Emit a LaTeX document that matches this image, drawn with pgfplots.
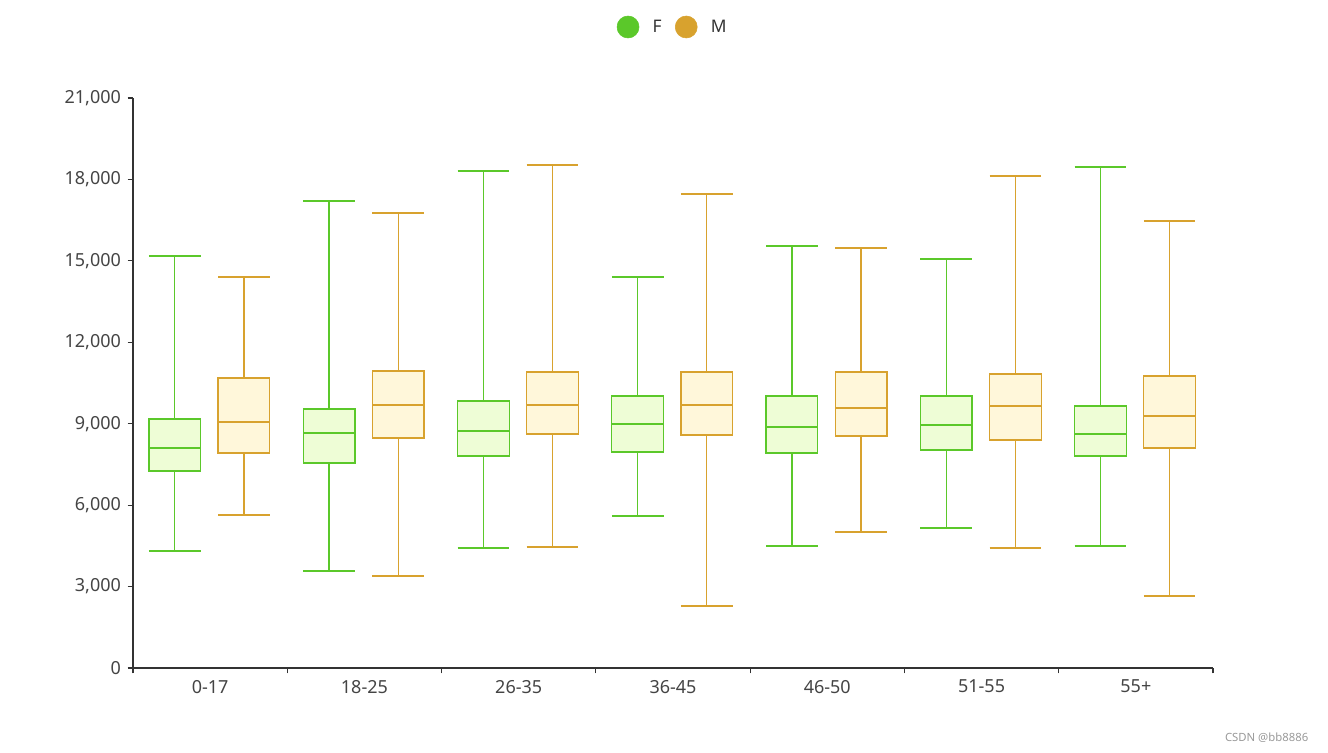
\documentclass[border=0pt]{standalone}
\usepackage{fontspec}
\setmainfont{Noto Sans}
\usepackage{pgfplots}
\pgfplotsset{compat=1.18}
\usepgfplotslibrary{statistics}
\definecolor{colF}{HTML}{5BC82A}
\definecolor{colM}{HTML}{D8A22E}
\definecolor{fillF}{HTML}{EEFDD6}
\definecolor{fillM}{HTML}{FFF7DA}
\definecolor{axc}{HTML}{333333}
\definecolor{lab}{HTML}{444444}
\newcommand{\bx}[7]{\addplot[#7, boxplot prepared={draw position=#1, lower whisker=#2, lower quartile=#3, median=#4, upper quartile=#5, upper whisker=#6, box extend=0.335, whisker extend=0.335}] coordinates {};}
\begin{document}
\begin{tikzpicture}
\useasboundingbox (-99.75pt,-63.75pt) rectangle (896.25pt,501pt);
\begin{axis}[at={(0pt,0pt)}, anchor=south west, scale only axis,
  width=810pt, height=427.5pt,
  xmin=-0.5, xmax=6.5, ymin=0, ymax=21000,
  boxplot/draw direction=y,
  axis lines=left, axis line style={-, draw=axc, line width=0.8pt},
  tick align=outside,
  ytick={0,3000,...,21000},
  yticklabel style={font=\fontsize{13.5}{15}\selectfont, text=lab, xshift=-1.5pt},
  xticklabel style={font=\fontsize{13.5}{15}\selectfont, text=lab, yshift=-1.5pt},
  /pgf/number format/assume math mode=true,
  /pgf/number format/1000 sep={,},
  scaled y ticks=false,
  major tick length=4pt, minor tick length=4pt,
  tick style={draw=axc, line width=0.8pt},
  xtick={0,...,6},
  xticklabels={0-17,18-25,26-35,36-45,46-50,51-55,55+},
  major x tick style={draw=none},
  minor xtick={-0.5,0.5,1.5,2.5,3.5,4.5,5.5,6.5},
  legend style={at={(0.5,1)}, anchor=center, yshift=53.25pt, xshift=-1pt,
    draw=none, fill=none, legend columns=2, column sep=10pt,
    font=\fontsize{13}{15}\selectfont, text=axc,
    nodes={inner sep=0pt}},
  fstyle/.style={draw=colF, fill=fillF, line width=1pt},
  mstyle/.style={draw=colM, fill=fillM, line width=1pt},
]
\addlegendimage{legend image code/.code={\fill[colF] (8.25pt,0pt) circle (8.25pt);}}
\addlegendentry{F}
\addlegendimage{legend image code/.code={\fill[colM] (8.25pt,0pt) circle (8.25pt);}}
\addlegendentry{M}
\bx{-0.229}{4311}{7258}{8105}{9174}{15179}{fstyle}
\bx{0.219}{5637}{7921}{9063}{10684}{14405}{mstyle}
\bx{0.771}{3574}{7553}{8658}{9542}{17205}{fstyle}
\bx{1.219}{3389}{8474}{9689}{10942}{16763}{mstyle}
\bx{1.771}{4421}{7811}{8732}{9837}{18311}{fstyle}
\bx{2.219}{4458}{8621}{9689}{10905}{18532}{mstyle}
\bx{2.771}{5600}{7958}{8989}{10021}{14405}{fstyle}
\bx{3.219}{2284}{8584}{9689}{10905}{17463}{mstyle}
\bx{3.771}{4495}{7921}{8879}{10021}{15547}{fstyle}
\bx{4.219}{5011}{8547}{9579}{10905}{15474}{mstyle}
\bx{4.771}{5158}{8032}{8953}{10021}{15068}{fstyle}
\bx{5.219}{4421}{8400}{9653}{10832}{18126}{mstyle}
\bx{5.771}{4495}{7811}{8621}{9653}{18458}{fstyle}
\bx{6.219}{2653}{8105}{9284}{10758}{16468}{mstyle}
\end{axis}
\node[anchor=east, font=\fontsize{8.5}{10}\selectfont, text=gray!80] at (885pt,-52.5pt) {CSDN @bb8886};
\end{tikzpicture}
\end{document}
